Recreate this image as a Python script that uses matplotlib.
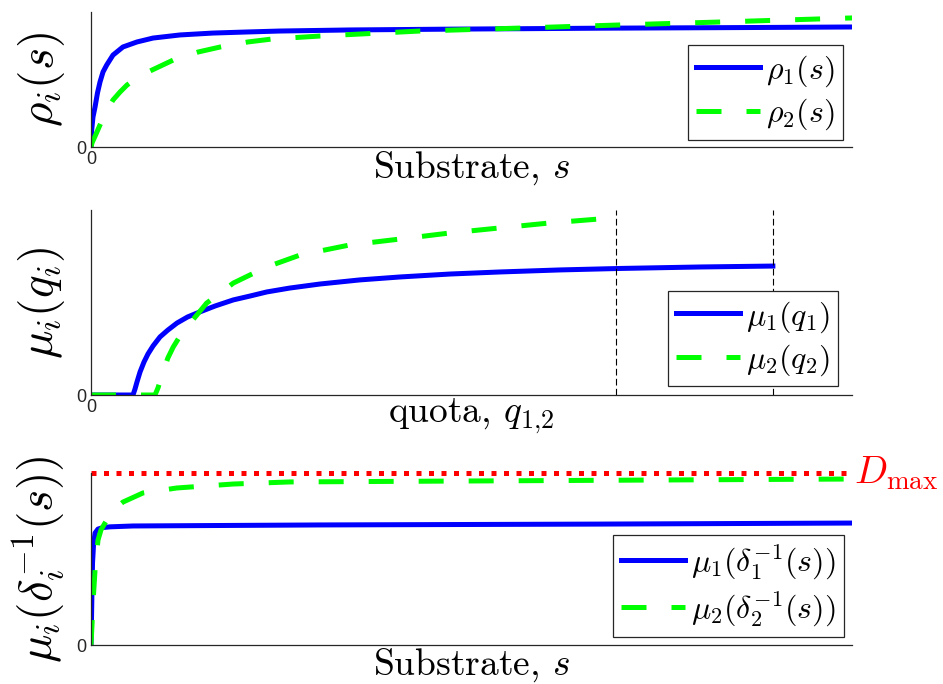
import matplotlib
matplotlib.use("Agg")
import matplotlib.pyplot as plt

plt.rcParams["mathtext.fontset"] = "cm"
plt.rcParams["font.family"] = ["Liberation Sans", "DejaVu Sans"]

BLUE = "#0000ff"
GREEN = "#00ff00"
RED = "#ff0000"
AXC = "#262626"

# panel 1: uptake rho_i(s), x in % of axis width, y normalised
s1_blue = [0, 0.09, 0.26, 0.53, 0.85, 1.18, 1.58, 2.06, 2.89, 4.20, 6.04, 8.15, 11.7, 16.0,
           20.5, 24.8, 34.0, 47.2, 66.9, 86.6, 100]
rho1 = [0, 0.126, 0.222, 0.296, 0.400, 0.481, 0.556, 0.607, 0.681, 0.741, 0.778, 0.807, 0.830,
        0.844, 0.852, 0.859, 0.867, 0.873, 0.880, 0.885, 0.889]
s1_green = [0, 0.13, 0.66, 1.18, 1.97, 2.89, 3.81, 4.73, 6.18, 8.02, 10.8, 14.1, 17.0, 20.6,
            23.8, 30.1, 43.2, 56.4, 69.5, 82.7, 100]
rho2 = [0, 0.030, 0.096, 0.163, 0.259, 0.348, 0.407, 0.459, 0.519, 0.570, 0.644, 0.704, 0.741,
        0.778, 0.800, 0.822, 0.859, 0.881, 0.904, 0.926, 0.956]

# panel 2: growth mu_i(q_i)
q1 = [0, 5.52, 5.78, 6.04, 6.44, 6.96, 7.49, 8.15, 9.07, 10.1, 11.3, 12.7, 14.3, 16.3, 18.7,
      20.9, 23.1, 26.1, 30.1, 35.3, 40.6, 47.2, 53.7, 61.6, 69.5, 80.0, 89.6]
mu1_q = [0, 0, 0.032, 0.070, 0.124, 0.178, 0.222, 0.265, 0.314, 0.351, 0.389, 0.422, 0.449,
         0.481, 0.514, 0.535, 0.557, 0.578, 0.600, 0.622, 0.638, 0.654, 0.665, 0.676, 0.684,
         0.692, 0.697]
q2 = [0, 8.41, 8.80, 9.46, 10.1, 10.8, 11.7, 12.6, 13.9, 15.2, 17.0, 18.7, 20.9, 23.1, 27.5,
      34.0, 40.6, 47.2, 53.7, 60.3, 68.5]
mu2_q = [0, 0, 0.038, 0.124, 0.200, 0.259, 0.319, 0.368, 0.432, 0.497, 0.551, 0.605, 0.649,
         0.692, 0.757, 0.811, 0.843, 0.876, 0.903, 0.930, 0.957]
q_max = [69.0, 89.6]

# panel 3: mu_i(delta_i^-1(s))
s3_blue = [0, 0.07, 0.13, 0.20, 0.33, 0.53, 0.92, 1.58, 2.5, 5.52, 30.1, 66.9, 100]
mu1_s = [0, 0.163, 0.320, 0.477, 0.581, 0.651, 0.674, 0.683, 0.687, 0.692, 0.698, 0.703, 0.709]
s3_green = [0, 0.13, 0.26, 0.53, 0.92, 1.31, 1.84, 2.89, 4.20, 6.83, 11.3, 18.7, 26.1, 47.2,
            73.5, 100]
mu2_s = [0, 0.116, 0.244, 0.436, 0.610, 0.669, 0.709, 0.785, 0.831, 0.884, 0.913, 0.936,
         0.948, 0.953, 0.959, 0.965]
d_max = 1.0

fig = plt.figure(figsize=(9.43, 6.84), dpi=100)
W = 943
H = 684


def make_ax(top, bottom, left=91, right=852):
    ax = fig.add_axes([left / W, 1 - bottom / H, (right - left) / W, (bottom - top) / H])
    ax.spines["top"].set_visible(False)
    ax.spines["right"].set_visible(False)
    for sp in ("left", "bottom"):
        ax.spines[sp].set_color(AXC)
        ax.spines[sp].set_linewidth(0.9)
    ax.set_xlim(0, 100)
    ax.set_ylim(0, 1)
    ax.tick_params(length=0, labelsize=13, colors=AXC, pad=3)
    return ax


lw = 3.6
dash = (0, (5, 5))

ax1 = make_ax(12, 147)
ax1.plot(s1_blue, rho1, color=BLUE, lw=lw, label=r"$\rho_1(s)$")
ax1.plot(s1_green, rho2, color=GREEN, lw=lw, ls=dash, label=r"$\rho_2(s)$")
ax1.set_xticks([0])
ax1.set_yticks([0])

ax2 = make_ax(210, 395)
ax2.plot(q1, mu1_q, color=BLUE, lw=lw, label=r"$\mu_1(q_1)$")
ax2.plot(q2, mu2_q, color=GREEN, lw=lw, ls=dash, label=r"$\mu_2(q_2)$")
for xq in q_max:
    ax2.axvline(xq, color="black", lw=0.8, ls=(0, (6, 3)))
ax2.set_xticks([0])
ax2.set_yticks([0])

ax3 = make_ax(473, 645)
ax3.plot([0, 100], [d_max, d_max], color=RED, lw=lw, ls=(0, (1, 1.5)), clip_on=False)
ax3.plot(s3_blue, mu1_s, color=BLUE, lw=lw, label=r"$\mu_1(\delta_1^{-1}(s))$")
ax3.plot(s3_green, mu2_s, color=GREEN, lw=lw, ls=dash, label=r"$\mu_2(\delta_2^{-1}(s))$")
ax3.set_xticks([])
ax3.set_yticks([0])
ax3.text(100.2, d_max, r"$D_{\max}$", color=RED, fontsize=28, va="center", ha="left",
         clip_on=False)

legend_kw = dict(loc="lower right", fontsize=23, frameon=True, fancybox=False,
                 edgecolor=AXC, framealpha=1, handlelength=2.0, borderaxespad=0,
                 borderpad=0.25, labelspacing=0.25, handletextpad=0.2)
for ax, anchor in ((ax1, (0.988, 0.052)), (ax2, (0.9816, 0.0486)), (ax3, (0.9895, 0.0465))):
    leg = ax.legend(bbox_to_anchor=anchor, **legend_kw)
    leg.get_frame().set_linewidth(0.9)

ax1.set_ylabel(r"$\rho_i(s)$", fontsize=34)
ax2.set_ylabel(r"$\mu_i(q_i)$", fontsize=34)
ax3.set_ylabel(r"$\mu_i(\delta_i^{-1}(s))$", fontsize=34)
for ax in (ax1, ax2, ax3):
    ax.yaxis.set_label_coords(-0.032, 0.5)

# x labels placed by baseline, offsets read in pixels below each axis
for ax, text, drop, height in ((ax1, r"Substrate, $s$", 31, 135),
                               (ax2, r"quota, $q_{1{,}2}$", 27, 185),
                               (ax3, r"Substrate, $s$", 30, 172)):
    ax.set_xlabel(text, fontsize=27, fontfamily="cmr10", va="baseline")
    ax.xaxis.set_label_coords(0.5, -drop / height)

fig.savefig("out.png", dpi=100)
